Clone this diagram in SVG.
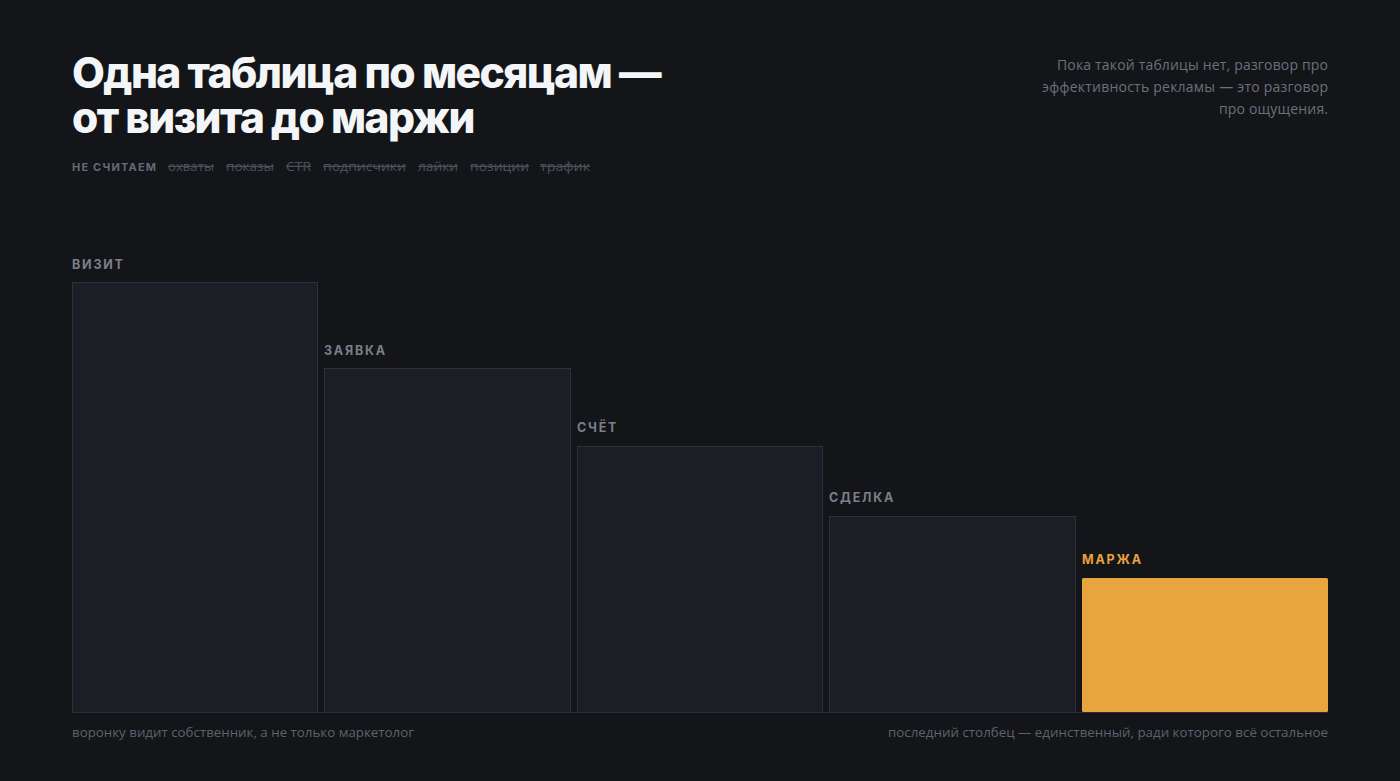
<svg xmlns="http://www.w3.org/2000/svg" width="1400" height="781" viewBox="0 0 1400 781">
<style>
.title{font-family:Inter,"Liberation Sans",sans-serif;font-weight:800;font-size:43px;fill:#f4f5f7;letter-spacing:-1.6px}
.sub{font-family:"Open Sans","Liberation Sans",sans-serif;font-size:14px;fill:#6c707b}
.tag{font-family:Inter,"Liberation Sans",sans-serif;font-weight:700;font-size:11px;fill:#666a74;letter-spacing:1.2px}
.strike{font-family:"Open Sans","Liberation Sans",sans-serif;font-size:13px;fill:#4c505a;text-decoration:line-through}
.lbl{font-family:Inter,"Liberation Sans",sans-serif;font-weight:700;font-size:12.5px;fill:#7b7f89;letter-spacing:1.8px}
.bar{fill:#1b1e25;stroke:#2d313a;stroke-width:1}
.foot{font-family:"Open Sans","Liberation Sans",sans-serif;font-size:13px;fill:#5e626c}
</style>
<rect width="1400" height="781" fill="#131519"/>
<g id="header">
<text class="title" x="72" y="88" textLength="588" lengthAdjust="spacingAndGlyphs">Одна таблица по месяцам —</text>
<text class="title" x="72" y="133" textLength="402" lengthAdjust="spacingAndGlyphs">от визита до маржи</text>
<text class="sub" x="1328" y="70" text-anchor="end" textLength="271" lengthAdjust="spacing">Пока такой таблицы нет, разговор про</text>
<text class="sub" x="1328" y="92" text-anchor="end" textLength="286" lengthAdjust="spacing">эффективность рекламы — это разговор</text>
<text class="sub" x="1328" y="114" text-anchor="end" textLength="109" lengthAdjust="spacing">про ощущения.</text>
</g>
<g id="excluded">
<text class="tag" x="72" y="171">НЕ СЧИТАЕМ</text>
<text class="strike" x="168" y="171" textLength="46" lengthAdjust="spacingAndGlyphs">охваты</text>
<text class="strike" x="226" y="171" textLength="48" lengthAdjust="spacingAndGlyphs">показы</text>
<text class="strike" x="286" y="171" textLength="25" lengthAdjust="spacingAndGlyphs">CTR</text>
<text class="strike" x="323" y="171" textLength="83" lengthAdjust="spacingAndGlyphs">подписчики</text>
<text class="strike" x="418" y="171" textLength="40" lengthAdjust="spacingAndGlyphs">лайки</text>
<text class="strike" x="470" y="171" textLength="59" lengthAdjust="spacingAndGlyphs">позиции</text>
<text class="strike" x="540" y="171" textLength="50" lengthAdjust="spacingAndGlyphs">трафик</text>
</g>
<g id="visit">
<text class="lbl" x="72" y="269">ВИЗИТ</text>
<rect class="bar" x="72.5" y="282.5" width="245" height="430"/>
</g>
<g id="lead">
<text class="lbl" x="324" y="355">ЗАЯВКА</text>
<rect class="bar" x="324.5" y="368.5" width="246" height="344"/>
</g>
<g id="invoice">
<text class="lbl" x="577" y="432">СЧЁТ</text>
<rect class="bar" x="577.5" y="446.5" width="245" height="266"/>
</g>
<g id="deal">
<text class="lbl" x="829" y="502">СДЕЛКА</text>
<rect class="bar" x="829.5" y="516.5" width="246" height="196"/>
</g>
<g id="margin">
<text class="lbl" x="1082" y="564" style="fill:#e8a33d">МАРЖА</text>
<rect x="1082" y="578" width="246" height="134" rx="1.5" fill="#e8a43d"/>
</g>
<g id="connectors">
<line x1="72" y1="712.5" x2="1328" y2="712.5" stroke="#2a2e36" stroke-width="1"/>
</g>
<g id="footer">
<text class="foot" x="72" y="737" textLength="342" lengthAdjust="spacingAndGlyphs">воронку видит собственник, а не только маркетолог</text>
<text class="foot" x="1328" y="737" text-anchor="end" textLength="440" lengthAdjust="spacingAndGlyphs">последний столбец — единственный, ради которого всё остальное</text>
</g>
</svg>
